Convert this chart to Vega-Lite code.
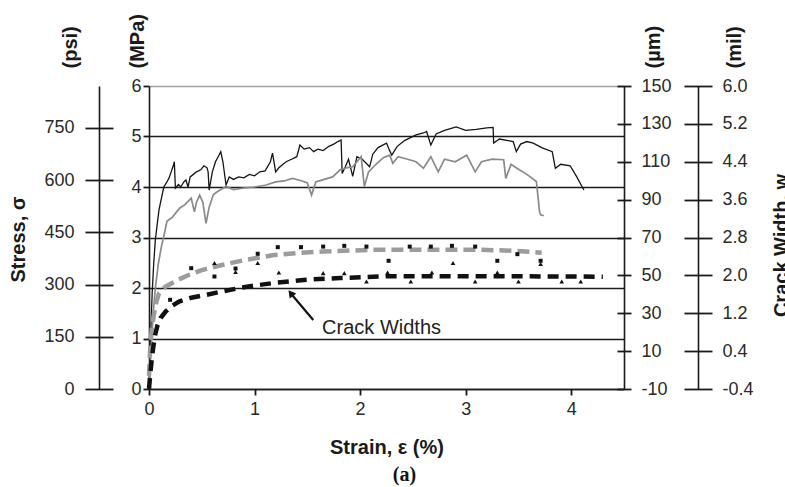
{
  "$schema": "https://vega.github.io/schema/vega-lite/v6.json",
  "width": 475,
  "height": 303,
  "autosize": {"type": "none"},
  "padding": {"left": 149, "top": 86, "right": 161, "bottom": 98},
  "background": "white",
  "config": {
    "view": {"stroke": null},
    "font": "Liberation Sans",
    "axis": {
      "labelFont": "Liberation Sans",
      "titleFont": "Liberation Sans",
      "labelFontSize": 18,
      "labelColor": "#2a2a2a",
      "titleFontSize": 20,
      "titleFontWeight": "bold",
      "titleColor": "#1a1a1a",
      "domainColor": "#1a1a1a",
      "tickColor": "#1a1a1a",
      "domainWidth": 1.6,
      "tickWidth": 1.8,
      "grid": false
    }
  },
  "title": {"text": "(a)", "orient": "bottom", "anchor": "middle", "font": "Liberation Serif", "fontSize": 20, "fontWeight": "bold", "color": "#111111", "offset": 8, "dx": 18},
  "datasets": {
    "stress_black": [
      {"strain": 0, "mpa": 0}, {"strain": 0.01, "mpa": 0.6}, {"strain": 0.02, "mpa": 1.3}, {"strain": 0.03, "mpa": 1.9}, {"strain": 0.045, "mpa": 2.5}, {"strain": 0.06, "mpa": 2.95}, {"strain": 0.08, "mpa": 3.3}, {"strain": 0.095, "mpa": 3.55}, {"strain": 0.12, "mpa": 3.8}, {"strain": 0.14, "mpa": 4.0}, {"strain": 0.17, "mpa": 4.1}, {"strain": 0.19, "mpa": 4.18}, {"strain": 0.21, "mpa": 4.3}, {"strain": 0.23, "mpa": 4.42}, {"strain": 0.24, "mpa": 4.5}, {"strain": 0.25, "mpa": 3.98}, {"strain": 0.28, "mpa": 4.05}, {"strain": 0.3, "mpa": 4.0}, {"strain": 0.33, "mpa": 4.1}, {"strain": 0.35, "mpa": 4.14}, {"strain": 0.37, "mpa": 4.0}, {"strain": 0.39, "mpa": 4.2}, {"strain": 0.42, "mpa": 4.25}, {"strain": 0.45, "mpa": 4.3}, {"strain": 0.49, "mpa": 4.34}, {"strain": 0.52, "mpa": 4.42}, {"strain": 0.55, "mpa": 4.38}, {"strain": 0.56, "mpa": 4.3}, {"strain": 0.57, "mpa": 3.94}, {"strain": 0.6, "mpa": 4.3}, {"strain": 0.63, "mpa": 4.5}, {"strain": 0.66, "mpa": 4.62}, {"strain": 0.68, "mpa": 4.7}, {"strain": 0.7, "mpa": 4.5}, {"strain": 0.73, "mpa": 4.04}, {"strain": 0.76, "mpa": 4.2}, {"strain": 0.8, "mpa": 4.15}, {"strain": 0.85, "mpa": 4.2}, {"strain": 0.9, "mpa": 4.18}, {"strain": 0.95, "mpa": 4.25}, {"strain": 1.0, "mpa": 4.22}, {"strain": 1.05, "mpa": 4.3}, {"strain": 1.1, "mpa": 4.32}, {"strain": 1.15, "mpa": 4.5}, {"strain": 1.17, "mpa": 4.67}, {"strain": 1.2, "mpa": 4.3}, {"strain": 1.23, "mpa": 4.38}, {"strain": 1.27, "mpa": 4.45}, {"strain": 1.3, "mpa": 4.5}, {"strain": 1.35, "mpa": 4.55}, {"strain": 1.4, "mpa": 4.6}, {"strain": 1.43, "mpa": 4.83}, {"strain": 1.47, "mpa": 4.75}, {"strain": 1.52, "mpa": 4.78}, {"strain": 1.56, "mpa": 4.7}, {"strain": 1.6, "mpa": 4.75}, {"strain": 1.65, "mpa": 4.72}, {"strain": 1.7, "mpa": 4.8}, {"strain": 1.75, "mpa": 4.85}, {"strain": 1.79, "mpa": 4.9}, {"strain": 1.82, "mpa": 4.93}, {"strain": 1.83, "mpa": 4.27}, {"strain": 1.86, "mpa": 4.4}, {"strain": 1.89, "mpa": 4.55}, {"strain": 1.93, "mpa": 4.21}, {"strain": 1.97, "mpa": 4.6}, {"strain": 2.02, "mpa": 4.55}, {"strain": 2.09, "mpa": 4.4}, {"strain": 2.12, "mpa": 4.65}, {"strain": 2.17, "mpa": 4.78}, {"strain": 2.25, "mpa": 4.87}, {"strain": 2.28, "mpa": 4.72}, {"strain": 2.3, "mpa": 4.63}, {"strain": 2.35, "mpa": 4.8}, {"strain": 2.42, "mpa": 4.92}, {"strain": 2.53, "mpa": 5.03}, {"strain": 2.6, "mpa": 5.07}, {"strain": 2.63, "mpa": 5.1}, {"strain": 2.67, "mpa": 4.83}, {"strain": 2.72, "mpa": 5.05}, {"strain": 2.8, "mpa": 5.12}, {"strain": 2.91, "mpa": 5.19}, {"strain": 3.0, "mpa": 5.12}, {"strain": 3.1, "mpa": 5.14}, {"strain": 3.2, "mpa": 5.17}, {"strain": 3.26, "mpa": 5.18}, {"strain": 3.265, "mpa": 4.87}, {"strain": 3.32, "mpa": 4.95}, {"strain": 3.4, "mpa": 4.92}, {"strain": 3.45, "mpa": 4.9}, {"strain": 3.48, "mpa": 4.7}, {"strain": 3.52, "mpa": 4.85}, {"strain": 3.58, "mpa": 4.9}, {"strain": 3.64, "mpa": 4.87}, {"strain": 3.72, "mpa": 4.78}, {"strain": 3.82, "mpa": 4.7}, {"strain": 3.85, "mpa": 4.37}, {"strain": 3.9, "mpa": 4.45}, {"strain": 3.99, "mpa": 4.42}, {"strain": 4.05, "mpa": 4.21}, {"strain": 4.12, "mpa": 3.94}
    ],
    "stress_gray": [
      {"strain": 0, "mpa": 0}, {"strain": 0.02, "mpa": 0.8}, {"strain": 0.04, "mpa": 1.5}, {"strain": 0.06, "mpa": 2.0}, {"strain": 0.09, "mpa": 2.5}, {"strain": 0.12, "mpa": 2.85}, {"strain": 0.14, "mpa": 3.02}, {"strain": 0.17, "mpa": 3.32}, {"strain": 0.22, "mpa": 3.4}, {"strain": 0.29, "mpa": 3.58}, {"strain": 0.34, "mpa": 3.65}, {"strain": 0.4, "mpa": 3.78}, {"strain": 0.43, "mpa": 3.51}, {"strain": 0.45, "mpa": 3.7}, {"strain": 0.48, "mpa": 3.84}, {"strain": 0.51, "mpa": 3.7}, {"strain": 0.54, "mpa": 3.28}, {"strain": 0.57, "mpa": 3.6}, {"strain": 0.61, "mpa": 3.85}, {"strain": 0.65, "mpa": 3.91}, {"strain": 0.73, "mpa": 4.01}, {"strain": 0.8, "mpa": 3.95}, {"strain": 0.9, "mpa": 3.98}, {"strain": 1.0, "mpa": 4.0}, {"strain": 1.11, "mpa": 4.04}, {"strain": 1.2, "mpa": 4.1}, {"strain": 1.28, "mpa": 4.12}, {"strain": 1.36, "mpa": 4.17}, {"strain": 1.45, "mpa": 4.12}, {"strain": 1.5, "mpa": 4.08}, {"strain": 1.54, "mpa": 3.84}, {"strain": 1.58, "mpa": 4.1}, {"strain": 1.66, "mpa": 4.15}, {"strain": 1.74, "mpa": 4.2}, {"strain": 1.81, "mpa": 4.34}, {"strain": 1.87, "mpa": 4.38}, {"strain": 1.93, "mpa": 4.4}, {"strain": 1.97, "mpa": 4.5}, {"strain": 2.01, "mpa": 4.6}, {"strain": 2.04, "mpa": 4.01}, {"strain": 2.08, "mpa": 4.3}, {"strain": 2.15, "mpa": 4.45}, {"strain": 2.22, "mpa": 4.58}, {"strain": 2.28, "mpa": 4.63}, {"strain": 2.31, "mpa": 4.47}, {"strain": 2.36, "mpa": 4.6}, {"strain": 2.45, "mpa": 4.55}, {"strain": 2.53, "mpa": 4.5}, {"strain": 2.6, "mpa": 4.37}, {"strain": 2.67, "mpa": 4.6}, {"strain": 2.74, "mpa": 4.3}, {"strain": 2.8, "mpa": 4.55}, {"strain": 2.9, "mpa": 4.5}, {"strain": 3.01, "mpa": 4.63}, {"strain": 3.09, "mpa": 4.3}, {"strain": 3.15, "mpa": 4.5}, {"strain": 3.25, "mpa": 4.55}, {"strain": 3.36, "mpa": 4.54}, {"strain": 3.38, "mpa": 4.17}, {"strain": 3.43, "mpa": 4.45}, {"strain": 3.5, "mpa": 4.35}, {"strain": 3.58, "mpa": 4.25}, {"strain": 3.67, "mpa": 4.11}, {"strain": 3.7, "mpa": 3.51}, {"strain": 3.71, "mpa": 3.45}, {"strain": 3.74, "mpa": 3.43}
    ],
    "crack_gray": [
      {"strain": 0, "um": -3}, {"strain": 0.01, "um": 10}, {"strain": 0.025, "um": 21}, {"strain": 0.045, "um": 29}, {"strain": 0.07, "um": 36}, {"strain": 0.095, "um": 40.6}, {"strain": 0.15, "um": 43.8}, {"strain": 0.22, "um": 46}, {"strain": 0.3, "um": 48.3}, {"strain": 0.38, "um": 50.3}, {"strain": 0.5, "um": 52.8}, {"strain": 0.7, "um": 55.6}, {"strain": 0.9, "um": 58}, {"strain": 1.17, "um": 60.6}, {"strain": 1.4, "um": 61.8}, {"strain": 1.65, "um": 62.6}, {"strain": 2.12, "um": 63.5}, {"strain": 2.6, "um": 63.6}, {"strain": 3.14, "um": 63.5}, {"strain": 3.45, "um": 63}, {"strain": 3.72, "um": 62}
    ],
    "crack_black": [
      {"strain": 0, "um": -10}, {"strain": 0.012, "um": -2}, {"strain": 0.025, "um": 5}, {"strain": 0.04, "um": 12}, {"strain": 0.06, "um": 19}, {"strain": 0.08, "um": 23.5}, {"strain": 0.11, "um": 27.5}, {"strain": 0.16, "um": 31}, {"strain": 0.22, "um": 34}, {"strain": 0.285, "um": 36.2}, {"strain": 0.4, "um": 38.2}, {"strain": 0.54, "um": 39.7}, {"strain": 0.7, "um": 41.6}, {"strain": 0.855, "um": 43.3}, {"strain": 1.0, "um": 44.6}, {"strain": 1.17, "um": 45.9}, {"strain": 1.49, "um": 47.7}, {"strain": 1.81, "um": 48.6}, {"strain": 2.28, "um": 49.6}, {"strain": 2.8, "um": 49.6}, {"strain": 3.5, "um": 49.5}, {"strain": 4.3, "um": 49.3}
    ],
    "squares": [
      {"strain": 0.2, "um": 37.1}, {"strain": 0.4, "um": 53.8}, {"strain": 0.62, "um": 49.4}, {"strain": 0.82, "um": 53.6}, {"strain": 1.03, "um": 61.4}, {"strain": 1.22, "um": 64.9}, {"strain": 1.44, "um": 64.9}, {"strain": 1.65, "um": 65.2}, {"strain": 1.85, "um": 65.6}, {"strain": 2.06, "um": 65.2}, {"strain": 2.27, "um": 57.7}, {"strain": 2.47, "um": 65.2}, {"strain": 2.67, "um": 65.2}, {"strain": 2.87, "um": 65.6}, {"strain": 3.09, "um": 65.2}, {"strain": 3.3, "um": 57.7}, {"strain": 3.49, "um": 61.2}, {"strain": 3.71, "um": 57.7}
    ],
    "triangles": [
      {"strain": 0.62, "um": 56.5}, {"strain": 0.82, "um": 51.8}, {"strain": 1.03, "um": 56.5}, {"strain": 1.23, "um": 51.5}, {"strain": 1.65, "um": 51.2}, {"strain": 1.85, "um": 51.2}, {"strain": 2.06, "um": 46.8}, {"strain": 2.26, "um": 51.5}, {"strain": 2.48, "um": 46.8}, {"strain": 2.68, "um": 51.5}, {"strain": 2.88, "um": 56.5}, {"strain": 3.09, "um": 46.8}, {"strain": 3.3, "um": 51.5}, {"strain": 3.5, "um": 46.8}, {"strain": 3.71, "um": 56.0}, {"strain": 3.91, "um": 46.8}, {"strain": 4.09, "um": 46.8}
    ],
    "arrow": [{"strain": 1.556, "um": 26.4, "strain2": 1.35, "um2": 40.0}],
    "arrowhead": [{"strain": 1.343, "um": 40.6}],
    "label": [{"strain": 1.64, "um": 22.2, "text": "Crack Widths"}],
    "psi": [{"psi": 0}, {"psi": 870.2}],
    "umaxis": [{"um": -10}, {"um": 150}],
    "mil": [{"mil": -0.4}, {"mil": 6.0}]
  },
  "resolve": {"scale": {"y": "independent"}},
  "layer": [
    {
      "layer": [
        {
          "data": {"name": "stress_black"},
          "mark": {"type": "line", "color": "#151515", "strokeWidth": 1.3},
          "encoding": {
            "x": {"field": "strain", "type": "quantitative", "scale": {"domain": [0, 4.5], "nice": false, "zero": false},
              "axis": {"values": [0, 1, 2, 3, 4], "tickSize": 6, "labelPadding": 5, "labelFlush": false, "labelOverlap": false, "title": "Strain, ε (%)", "titleY": 58, "titleBaseline": "middle"}},
            "y": {"field": "mpa", "type": "quantitative", "scale": {"domain": [0, 6], "nice": false},
              "axis": {"orient": "left", "values": [0, 1, 2, 3, 4, 5, 6], "tickSize": 6, "labelPadding": 2, "grid": true,
                "gridColor": {"condition": {"test": "datum.value === 6", "value": "#a0a0a0"}, "value": "#1a1a1a"},
                "gridWidth": 1.6, "title": "(MPa)", "titleAngle": 270, "titleAlign": "left", "titleBaseline": "middle", "titleX": -12, "titleY": -18}}
          }
        },
        {
          "data": {"name": "stress_gray"},
          "mark": {"type": "line", "color": "#8a8a8a", "strokeWidth": 1.7},
          "encoding": {
            "x": {"field": "strain", "type": "quantitative",
              "axis": {"values": [0, 1, 2, 3, 4], "tickSize": 6, "labelPadding": 5, "labelFlush": false, "labelOverlap": false, "title": "Strain, ε (%)", "titleY": 58, "titleBaseline": "middle"}},
            "y": {"field": "mpa", "type": "quantitative",
              "axis": {"orient": "left", "values": [0, 1, 2, 3, 4, 5, 6], "tickSize": 6, "labelPadding": 2, "grid": true,
                "gridColor": {"condition": {"test": "datum.value === 6", "value": "#a0a0a0"}, "value": "#1a1a1a"},
                "gridWidth": 1.6, "title": "(MPa)", "titleAngle": 270, "titleAlign": "left", "titleBaseline": "middle", "titleX": -12, "titleY": -18}}
          }
        }
      ]
    },
    {
      "data": {"name": "psi"},
      "mark": {"type": "point", "opacity": 0},
      "encoding": {
        "y": {"field": "psi", "type": "quantitative", "scale": {"domain": [0, 870.2], "nice": false},
          "axis": {"orient": "left", "offset": 36, "values": [0, 150, 300, 450, 600, 750], "tickSize": 28, "labelPadding": 11, "domain": false,
            "title": "(psi)", "titleAngle": 270, "titleAlign": "left", "titleBaseline": "middle", "titleX": -43, "titleY": -18}}
      }
    },
    {
      "data": {"name": "psi"},
      "mark": {"type": "point", "opacity": 0},
      "encoding": {
        "y": {"field": "psi", "type": "quantitative", "scale": {"domain": [0, 870.2], "nice": false},
          "axis": {"orient": "left", "offset": 50, "ticks": false, "labels": false, "domain": true,
            "title": "Stress, σ", "titleAngle": 270, "titleAlign": "center", "titleBaseline": "middle", "titleX": -81, "titleY": 153}}
      }
    },
    {
      "layer": [
        {
          "data": {"name": "crack_gray"},
          "mark": {"type": "line", "color": "#9c9c9c", "strokeWidth": 4.5, "strokeDash": [12, 6]},
          "encoding": {
            "x": {"field": "strain", "type": "quantitative",
              "axis": {"values": [0, 1, 2, 3, 4], "tickSize": 6, "labelPadding": 5, "labelFlush": false, "labelOverlap": false, "title": "Strain, ε (%)", "titleY": 58, "titleBaseline": "middle"}},
            "y": {"field": "um", "type": "quantitative", "scale": {"domain": [-10, 150], "nice": false, "zero": false},
              "axis": {"orient": "right", "offset": -7, "values": [-10, 10, 30, 50, 70, 90, 110, 130, 150], "tickSize": 14, "labelPadding": 10, "domain": false, "labelExpr": "'' + datum.value", "title": "(µm)", "titleAngle": 270, "titleAlign": "left", "titleBaseline": "middle", "titleX": 36, "titleY": -18}}
          }
        },
        {
          "data": {"name": "crack_black"},
          "mark": {"type": "line", "color": "#111111", "strokeWidth": 4.5, "strokeDash": [11, 7]},
          "encoding": {
            "x": {"field": "strain", "type": "quantitative",
              "axis": {"values": [0, 1, 2, 3, 4], "tickSize": 6, "labelPadding": 5, "labelFlush": false, "labelOverlap": false, "title": "Strain, ε (%)", "titleY": 58, "titleBaseline": "middle"}},
            "y": {"field": "um", "type": "quantitative",
              "axis": {"orient": "right", "offset": -7, "values": [-10, 10, 30, 50, 70, 90, 110, 130, 150], "tickSize": 14, "labelPadding": 10, "domain": false, "labelExpr": "'' + datum.value", "title": "(µm)", "titleAngle": 270, "titleAlign": "left", "titleBaseline": "middle", "titleX": 36, "titleY": -18}}
          }
        },
        {
          "data": {"name": "squares"},
          "mark": {"type": "point", "shape": "square", "filled": true, "color": "#111111", "size": 16, "opacity": 1},
          "encoding": {
            "x": {"field": "strain", "type": "quantitative",
              "axis": {"values": [0, 1, 2, 3, 4], "tickSize": 6, "labelPadding": 5, "labelFlush": false, "labelOverlap": false, "title": "Strain, ε (%)", "titleY": 58, "titleBaseline": "middle"}},
            "y": {"field": "um", "type": "quantitative",
              "axis": {"orient": "right", "offset": -7, "values": [-10, 10, 30, 50, 70, 90, 110, 130, 150], "tickSize": 14, "labelPadding": 10, "domain": false, "labelExpr": "'' + datum.value", "title": "(µm)", "titleAngle": 270, "titleAlign": "left", "titleBaseline": "middle", "titleX": 36, "titleY": -18}}
          }
        },
        {
          "data": {"name": "triangles"},
          "mark": {"type": "point", "shape": "triangle-up", "filled": true, "color": "#111111", "size": 22, "opacity": 1},
          "encoding": {
            "x": {"field": "strain", "type": "quantitative",
              "axis": {"values": [0, 1, 2, 3, 4], "tickSize": 6, "labelPadding": 5, "labelFlush": false, "labelOverlap": false, "title": "Strain, ε (%)", "titleY": 58, "titleBaseline": "middle"}},
            "y": {"field": "um", "type": "quantitative",
              "axis": {"orient": "right", "offset": -7, "values": [-10, 10, 30, 50, 70, 90, 110, 130, 150], "tickSize": 14, "labelPadding": 10, "domain": false, "labelExpr": "'' + datum.value", "title": "(µm)", "titleAngle": 270, "titleAlign": "left", "titleBaseline": "middle", "titleX": 36, "titleY": -18}}
          }
        },
        {
          "data": {"name": "arrow"},
          "mark": {"type": "rule", "color": "#111111", "strokeWidth": 2.2},
          "encoding": {
            "x": {"field": "strain", "type": "quantitative",
              "axis": {"values": [0, 1, 2, 3, 4], "tickSize": 6, "labelPadding": 5, "labelFlush": false, "labelOverlap": false, "title": "Strain, ε (%)", "titleY": 58, "titleBaseline": "middle"}},
            "y": {"field": "um", "type": "quantitative",
              "axis": {"orient": "right", "offset": -7, "values": [-10, 10, 30, 50, 70, 90, 110, 130, 150], "tickSize": 14, "labelPadding": 10, "domain": false, "labelExpr": "'' + datum.value", "title": "(µm)", "titleAngle": 270, "titleAlign": "left", "titleBaseline": "middle", "titleX": 36, "titleY": -18}},
            "x2": {"field": "strain2"},
            "y2": {"field": "um2"}
          }
        },
        {
          "data": {"name": "arrowhead"},
          "mark": {"type": "point", "shape": "triangle-up", "filled": true, "color": "#111111", "size": 70, "angle": 322, "opacity": 1},
          "encoding": {
            "x": {"field": "strain", "type": "quantitative",
              "axis": {"values": [0, 1, 2, 3, 4], "tickSize": 6, "labelPadding": 5, "labelFlush": false, "labelOverlap": false, "title": "Strain, ε (%)", "titleY": 58, "titleBaseline": "middle"}},
            "y": {"field": "um", "type": "quantitative",
              "axis": {"orient": "right", "offset": -7, "values": [-10, 10, 30, 50, 70, 90, 110, 130, 150], "tickSize": 14, "labelPadding": 10, "domain": false, "labelExpr": "'' + datum.value", "title": "(µm)", "titleAngle": 270, "titleAlign": "left", "titleBaseline": "middle", "titleX": 36, "titleY": -18}}
          }
        },
        {
          "data": {"name": "label"},
          "mark": {"type": "text", "align": "left", "baseline": "middle", "fontSize": 20, "font": "Liberation Sans", "color": "#222222"},
          "encoding": {
            "x": {"field": "strain", "type": "quantitative",
              "axis": {"values": [0, 1, 2, 3, 4], "tickSize": 6, "labelPadding": 5, "labelFlush": false, "labelOverlap": false, "title": "Strain, ε (%)", "titleY": 58, "titleBaseline": "middle"}},
            "y": {"field": "um", "type": "quantitative",
              "axis": {"orient": "right", "offset": -7, "values": [-10, 10, 30, 50, 70, 90, 110, 130, 150], "tickSize": 14, "labelPadding": 10, "domain": false, "labelExpr": "'' + datum.value", "title": "(µm)", "titleAngle": 270, "titleAlign": "left", "titleBaseline": "middle", "titleX": 36, "titleY": -18}},
            "text": {"field": "text"}
          }
        }
      ]
    },
    {
      "data": {"name": "umaxis"},
      "mark": {"type": "point", "opacity": 0},
      "encoding": {
        "y": {"field": "um", "type": "quantitative", "scale": {"domain": [-10, 150], "nice": false, "zero": false},
          "axis": {"orient": "right", "offset": 0, "ticks": false, "labels": false, "domain": true, "title": null}}
      }
    },
    {
      "data": {"name": "mil"},
      "mark": {"type": "point", "opacity": 0},
      "encoding": {
        "y": {"field": "mil", "type": "quantitative", "scale": {"domain": [-0.4, 6.0], "nice": false, "zero": false},
          "axis": {"orient": "right", "offset": 60, "values": [-0.4, 0.4, 1.2, 2.0, 2.8, 3.6, 4.4, 5.2, 6.0], "tickSize": 28, "labelPadding": 10, "domain": false,
            "labelExpr": "datum.value < 0 ? '-' + format(-datum.value, '.1f') : format(datum.value, '.1f')",
            "title": "(mil)", "titleAngle": 270, "titleAlign": "left", "titleBaseline": "middle", "titleX": 50, "titleY": -18}}
      }
    },
    {
      "data": {"name": "mil"},
      "mark": {"type": "point", "opacity": 0},
      "encoding": {
        "y": {"field": "mil", "type": "quantitative", "scale": {"domain": [-0.4, 6.0], "nice": false, "zero": false},
          "axis": {"orient": "right", "offset": 74, "ticks": false, "labels": false, "domain": true,
            "title": "Crack Width, w", "titleAngle": 270, "titleAlign": "center", "titleBaseline": "middle", "titleX": 83, "titleY": 159}}
      }
    }
  ]
}
